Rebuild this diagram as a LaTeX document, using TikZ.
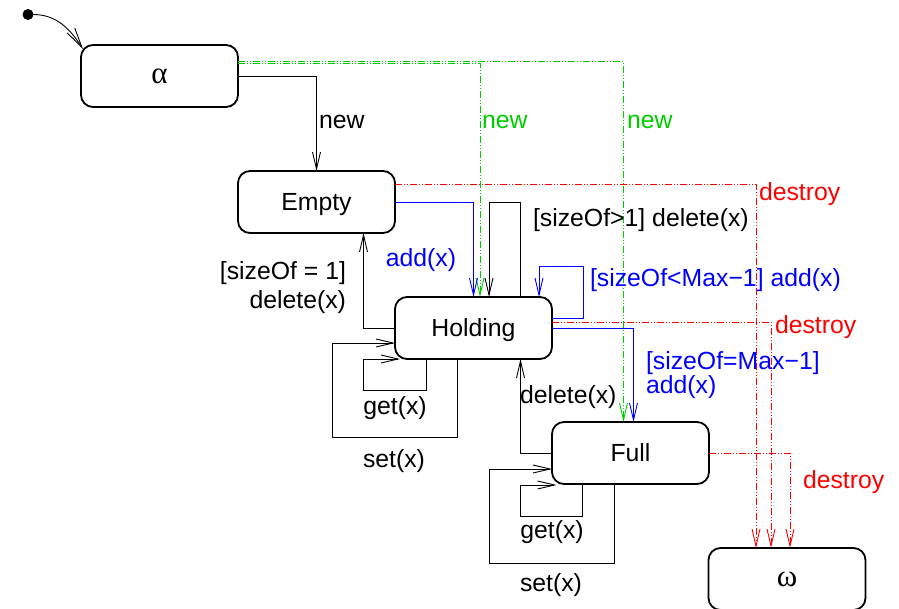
\documentclass[tikz,border=0pt]{standalone}
\usepackage{fontspec}
\setmainfont{Liberation Sans}
\newfontfamily\greekfont{Liberation Serif}
\usetikzlibrary{arrows.meta}
\definecolor{figgreen}{RGB}{0,205,0}
\definecolor{figred}{RGB}{255,0,0}
\definecolor{figblue}{RGB}{0,0,255}
\newcommand\lblfont{\fontsize{24.8}{29}\selectfont}
\newcommand\grkfont{\greekfont\fontsize{31}{31}\selectfont}
\begin{document}
\begin{tikzpicture}[x=1pt,y=-1pt,
  state/.style={draw, line width=1.8pt, rounded corners=12pt, minimum width=157pt,
    minimum height=62pt, inner sep=0pt, outer sep=0pt, font=\lblfont, text depth=0pt},
  conn/.style={line width=0.9pt, -{Straight Barb[length=17pt,width=8pt]}},
  greenconn/.style={conn, figgreen, dash pattern=on 7pt off 2pt on 1pt off 2pt on 1pt off 2pt},
  redconn/.style={conn, figred, dash pattern=on 7pt off 2pt on 1pt off 2pt on 1pt off 2pt},
  blueconn/.style={conn, figblue},
  lbl/.style={font=\lblfont, inner sep=0pt, outer sep=0pt, yshift=-2pt}
]
\useasboundingbox (0,0) rectangle (899,608);

% states
\node[state] (alpha) at (159.5,76) {\grkfont α};
\node[state] (empty) at (316.5,202) {Empty};
\node[state] (holding) at (473.5,328) {Holding};
\node[state] (full) at (630.5,453) {Full};
\node[state] (omega) at (787,579) {\grkfont ω};
\fill (28,14.5) circle (5.5pt) coordinate (init);
\coordinate (initout) at (33,14.5);

% initial
\draw[line width=0.9pt, -{Straight Barb[length=20pt,width=9pt]}] (initout) to[out=0,in=123] ([xshift=2pt,yshift=-4pt]alpha.north west);

% new
\draw[conn] (alpha.east) -| (empty.north);
\node[lbl, anchor=west] (lnew1) at (319,120) {new};
\draw[greenconn] ([yshift=13pt]alpha.east) -| ([xshift=6.5pt]holding.north);
\draw[greenconn] ([yshift=15pt]alpha.east) -| ([xshift=-7pt]full.north);
\node[lbl, anchor=west, text=figgreen] (lnew2) at (482,120) {new};
\node[lbl, anchor=west, text=figgreen] (lnew3) at (627,120) {new};

% Empty -> Holding
\draw[blueconn] (empty.east) -| (holding.north);
\node[lbl, text=figblue] (ladd) at (421,258) {add(x)};

% Holding -> Empty
\draw[conn] (holding.west) -| ([xshift=47pt]empty.south);
\node[lbl, anchor=east, align=right] (ldel1) at (346,286) {[sizeOf = 1]\\delete(x)};

% Holding self loops
\draw[conn] ([xshift=47pt]holding.north) -- ++(0,-95) -| ([xshift=15.5pt]holding.north);
\node[lbl, anchor=west] (ldel2) at (533,218) {[sizeOf>1] delete(x)};
\draw[blueconn] ([yshift=10pt]holding.east) -- ++(31,0) -- ++(0,-52) -| ([xshift=65.5pt]holding.north);
\node[lbl, anchor=west, text=figblue] (laddloop) at (590,278) {[sizeOf<Max−1] add(x)};

% Holding -> Full
\draw[blueconn] (holding.east) -| ([xshift=3pt]full.north);
\node[lbl, anchor=west, align=left, text=figblue, font=\fontsize{24.8}{23}\selectfont] (laddfull) at (646,373) {[sizeOf=Max−1]\\add(x)};

% Full -> Holding
\draw[conn] (full.west) -| ([xshift=47pt]holding.south);
\node[lbl, anchor=west] (ldel3) at (520,395) {delete(x)};

% Holding get/set
\draw[conn] ([xshift=-47.5pt]holding.south) -- ++(0,31) -- ++(-63,0) -- ++(0,-31) -- ([xshift=5pt]holding.south west);
\node[lbl] (lget1) at (395,406) {get(x)};
\draw[conn] ([xshift=-16pt]holding.south) -- ++(0,78) -- ++(-125,0) |- ([yshift=-15pt]holding.west);
\node[lbl] (lset1) at (394,459) {set(x)};

% Full get/set
\draw[conn] ([xshift=-48pt]full.south) -- ++(0,32) -- ++(-62.5,0) -- ++(0,-31) -- ([xshift=4.5pt,yshift=-1pt]full.south west);
\node[lbl] (lget2) at (552,530) {get(x)};
\draw[conn] ([xshift=-16pt]full.south) -- ++(0,79) -- ++(-125,0) |- ([yshift=-16pt]full.west);
\node[lbl] (lset2) at (551,583) {set(x)};

% destroy
\draw[redconn] ([yshift=18pt]empty.east) -| ([xshift=-31pt]omega.north);
\node[lbl, anchor=west, text=figred] (ldes1) at (759,192) {destroy};
\draw[redconn] ([yshift=6pt]holding.east) -| ([xshift=-16pt]omega.north);
\node[lbl, anchor=west, text=figred] (ldes2) at (775,325) {destroy};
\draw[redconn] (full.east) -| ([xshift=3pt]omega.north);
\node[lbl, anchor=west, text=figred] (ldes3) at (803,480) {destroy};
\end{tikzpicture}
\end{document}
